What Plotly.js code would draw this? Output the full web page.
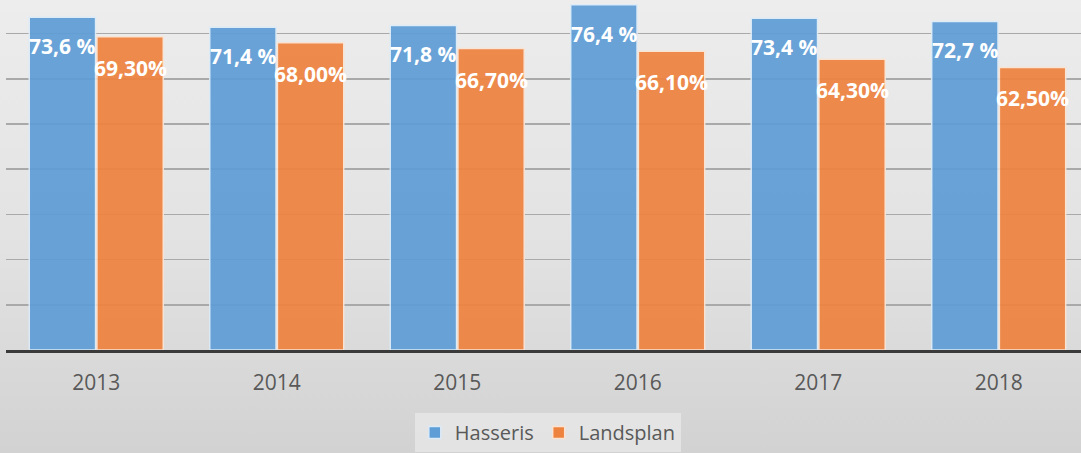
<!DOCTYPE html>
<html>
<head>
<meta charset="utf-8">
<script src="https://cdn.plot.ly/plotly-3.0.1.min.js"></script>
<style>
  html, body { margin: 0; padding: 0; }
  body {
    width: 1081px; height: 453px; overflow: hidden;
    background: linear-gradient(180deg, #ededed 0%, #e2e2e2 55%, #d2d2d2 100%);
  }
  #chart { width: 1081px; height: 453px; }
</style>
</head>
<body>
<div id="chart"></div>
<script>
// Andel - Hasseris vs. Landsplan
const years = ['2013', '2014', '2015', '2016', '2017', '2018'];
const hasseris = [73.6, 71.4, 71.8, 76.4, 73.4, 72.7];
const landsplan = [69.3, 68.0, 66.7, 66.1, 64.3, 62.5];
const hasserisLabels = ['73,6 %', '71,4 %', '71,8 %', '76,4 %', '73,4 %', '72,7 %'];
const landsplanLabels = ['69,30%', '68,00%', '66,70%', '66,10%', '64,30%', '62,50%'];

const blue = '#5f9dd6';
const orange = '#ee8340';

const traces = [
    {
        x: years, y: hasseris, type: 'bar', name: 'Hasseris',
        marker: { color: blue, opacity: 0.93, line: { color: '#dcebf8', width: 1.5 } },
        hoverinfo: 'skip'
    },
    {
        x: years, y: landsplan, type: 'bar', name: 'Landsplan',
        marker: { color: orange, opacity: 0.93, line: { color: '#fbe3d2', width: 1.5 } },
        hoverinfo: 'skip'
    }
];

// data labels, placed inside the top of each bar (x by category index)
const labelFont = { family: 'Open Sans, sans-serif', size: 21, color: '#ffffff' };
const annotations = [];
years.forEach((yr, i) => {
    annotations.push({
        x: i, y: hasseris[i], xref: 'x', yref: 'y', text: '<b>' + hasserisLabels[i] + '</b>',
        showarrow: false, xshift: -34, yshift: -29, yanchor: 'middle', font: labelFont
    });
    annotations.push({
        x: i, y: landsplan[i], xref: 'x', yref: 'y', text: '<b>' + landsplanLabels[i] + '</b>',
        showarrow: false, xshift: 34, yshift: -31, yanchor: 'middle', font: labelFont
    });
});

const layout = {
    width: 1081,
    height: 453,
    margin: { l: 6, r: 0, t: 0, b: 103 },
    paper_bgcolor: 'rgba(0,0,0,0)',
    plot_bgcolor: 'rgba(0,0,0,0)',
    barmode: 'group',
    bargap: 0.25,
    bargroupgap: 0.02,
    showlegend: true,
    legend: {
        orientation: 'h', x: 0.504, xanchor: 'center', y: -0.18, yanchor: 'top',
        font: { family: 'Open Sans, sans-serif', size: 20, color: '#595959' },
        bgcolor: 'rgba(240,240,240,0.55)',
        itemwidth: 30
    },
    xaxis: {
        type: 'category',
        range: [-0.5, 5.456],
        showline: true, linecolor: '#3a3a3a', linewidth: 3,
        ticks: 'outside', ticklen: 12, tickcolor: 'rgba(0,0,0,0)',
        tickfont: { family: 'Open Sans, sans-serif', size: 21, color: '#595959' },
        showgrid: false, fixedrange: true
    },
    yaxis: {
        range: [0, 77.43],
        dtick: 10,
        showticklabels: false,
        showgrid: true, gridcolor: '#a9a9a9', gridwidth: 1.5,
        zeroline: false, fixedrange: true
    },
    annotations: annotations
};

Plotly.newPlot('chart', traces, layout, { displayModeBar: false, staticPlot: true });
</script>
</body>
</html>
